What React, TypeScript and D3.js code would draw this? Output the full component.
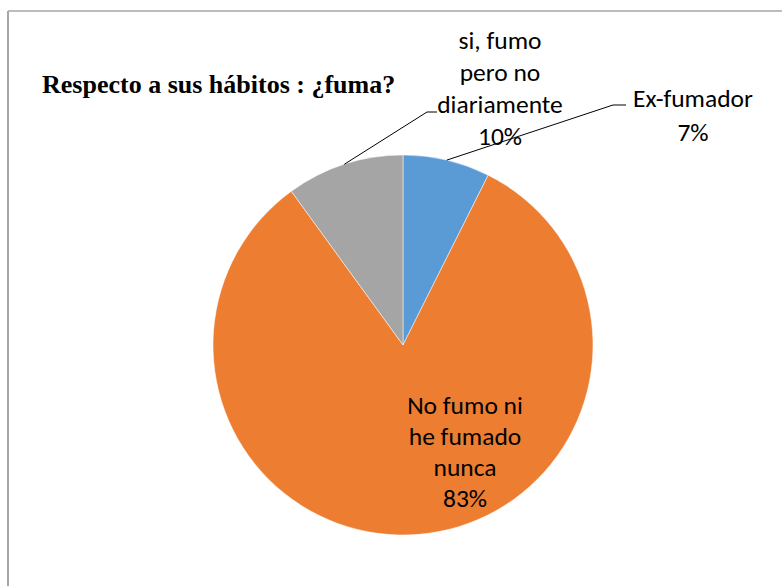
import React from "react";
import * as d3 from "d3";

const categories = ["Ex-fumador", "No fumo ni he fumado nunca", "si, fumo pero no diariamente"];
const values = [7.4, 82.6, 10];
const percentLabels = ["7%", "83%", "10%"];
const colors = ["#5B9BD5", "#ED7D31", "#A5A5A5"];
const nameLines = [["Ex-fumador"], ["No fumo ni", "he fumado", "nunca"], ["si, fumo", "pero no", "diariamente"]];
const title = "Respecto a sus hábitos : ¿fuma?";

const W = 782, H = 586;
const cx = 403, cy = 345, R = 190;

// label anchor positions (center x, first line center y) and leader ends
const labelPos = [
  { x: 693, y: 98, lh: 34, leader: [[613, 105], [626, 105]] },
  { x: 465, y: 405, lh: 31, leader: null },
  { x: 500, y: 40, lh: 32, leader: [[427, 112], [437, 112]] },
];

export default function App() {
  const pie = d3.pie<number>().sort(null).value((d) => d)(values);
  const arc = d3.arc<d3.PieArcDatum<number>>().innerRadius(0).outerRadius(R);
  const font = "Carlito, Calibri, Lato, sans-serif";
  return (
    <svg width={W} height={H} style={{ position: "absolute", left: 0, top: 0, background: "#fff" }}>
      <line x1={8} y1={11} x2={W} y2={11} stroke="#a6a6a6" strokeWidth={1.5} />
      <line x1={8} y1={11} x2={8} y2={H} stroke="#a6a6a6" strokeWidth={2} />
      <text x={42} y={93} fontFamily="'Liberation Serif', 'Times New Roman', serif" fontWeight="bold" fontSize={26} fill="#000">{title}</text>
      <g transform={`translate(${cx},${cy})`}>
        {pie.map((p, i) => (
          <path key={i} d={arc(p) || ""} fill={colors[i]} stroke="#fff" strokeWidth={0.5} />
        ))}
      </g>
      {pie.map((p, i) => {
        const lp = labelPos[i];
        const mid = (p.startAngle + p.endAngle) / 2;
        const sx = cx + R * Math.sin(mid);
        const sy = cy - R * Math.cos(mid);
        const lines = [...nameLines[i], percentLabels[i]];
        return (
          <g key={i}>
            {lp.leader && (
              <polyline
                points={[[sx, sy], ...lp.leader].map((q) => q.join(",")).join(" ")}
                fill="none"
                stroke="#000"
                strokeWidth={1}
              />
            )}
            {lines.map((t, j) => (
              <text key={j} x={lp.x} y={lp.y + j * lp.lh} textAnchor="middle" dominantBaseline="central" fontFamily={font} fontSize={25.5} fill="#000">
                {t}
              </text>
            ))}
          </g>
        );
      })}
    </svg>
  );
}
